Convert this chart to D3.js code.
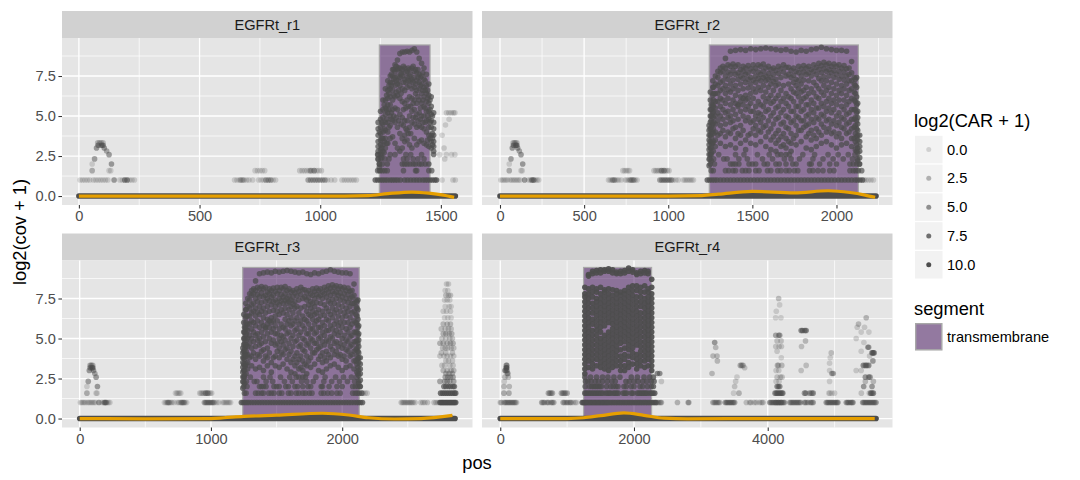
<!DOCTYPE html>
<html>
<head>
<meta charset="utf-8">
<script src="https://cdn.jsdelivr.net/npm/d3@7"></script>
<style>
  html, body { margin: 0; padding: 0; background: #fff; }
  svg { display: block; font-family: "Liberation Sans", Arial, sans-serif; }
</style>
</head>
<body>
<div id="vis"></div>
<script>
// set constants
const FRAME_WIDTH = 1080;
const FRAME_HEIGHT = 480;
const POINT_COLOR = "#4d4d4d";
const LINE_COLOR = "#e69f00";

// ---- data ----
const panelNames = ["EGFRt_r1", "EGFRt_r2", "EGFRt_r3", "EGFRt_r4"];
const xDomains = [[-70, 1631], [-107, 2333], [-135, 2993], [-273, 5866]];
const xTicks = [[0, 500, 1000, 1500], [0, 500, 1000, 1500, 2000], [0, 1000, 2000], [0, 2000, 4000]];
const xMinorTicks = [[250, 750, 1250], [250, 750, 1250, 1750, 2250], [500, 1500, 2500], [1000, 3000, 5000]];
const yTicks = [0, 2.5, 5, 7.5];
const yMinorTicks = [1.25, 3.75, 6.25, 8.75];
const carLegend = [0, 2.5, 5, 7.5, 10];
const segStart = [1245, 1244, 1242, 1246];
const segEnd = [1455, 2130, 2130, 2263];
const segTop = 9.44;
const zeroEnd = [1560, 2235, 2860, 5620];

// smooth line per panel
const smooth1Pos = [0, 400, 800, 1100, 1200, 1280, 1380, 1450, 1510, 1555];
const smooth1Val = [0, 0, 0, 0, 0.03, 0.15, 0.25, 0.18, 0.06, -0.08];
const smooth2Pos = [0, 500, 1000, 1200, 1300, 1500, 1750, 1950, 2080, 2170, 2230];
const smooth2Val = [0, 0, 0, 0.03, 0.12, 0.29, 0.2, 0.33, 0.22, 0.06, -0.08];
const smooth3Pos = [0, 500, 1000, 1100, 1250, 1500, 1850, 2050, 2200, 2400, 2600, 2840];
const smooth3Val = [0, -0.02, 0, 0.05, 0.13, 0.21, 0.33, 0.22, 0.05, -0.03, 0, 0.2];
const smooth4Pos = [0, 500, 1000, 1250, 1500, 1850, 2150, 2450, 2800, 4000, 5000, 5600];
const smooth4Val = [0, 0, 0, 0.05, 0.18, 0.35, 0.2, 0.02, -0.02, 0, 0, 0];

// low rows shared by r1, r2, r3: [log2(cov+1), log2(CAR+1), positions]
const leftRows = [
  [1, 0, [5, 15, 25, 35, 45, 60, 70, 80, 90, 100, 110, 120, 170, 180, 190, 200, 210, 220, 230]],
  [1, 4, [146, 190, 200]],
  [1, 0, [645, 655, 665, 675, 685, 695, 705, 720, 745, 755, 765, 775, 785, 795, 805, 815]],
  [1, 1.5, [670, 680, 775, 785, 795]],
  [1, 3, [950, 960, 970, 980, 990, 1000, 1010, 1020]],
  [1, 0, [1030, 1045, 1060, 1090, 1100, 1110, 1120, 1130, 1140, 1150]],
  [1.585, 0, [730, 740, 750, 760, 770]],
  [1.585, 0.3, [915, 925, 935, 945, 955, 965, 975, 985, 995, 1005]],
  [1.585, 2.5, [55, 960, 975]],
  [1.585, 0, [125, 132]],
  [2, 0, [55]],
  [2, 4, [135]],
  [2.32, 3.5, [65]],
  [2.585, 4, [125]],
  [2.81, 3, [115]],
  [3, 4, [73, 105]],
  [3.17, 5, [80, 94, 100]],
  [3.32, 1.5, [78, 85, 92, 100]]
];

// r1 transmembrane traces
const tm1Pos = [1240, 1250, 1260, 1270, 1280, 1290, 1300, 1310, 1320, 1330, 1340, 1350, 1360, 1370, 1380, 1390, 1400, 1410, 1420, 1430, 1440, 1450, 1460, 1470];
const tm1Traces = [
  [4.6, 5.3, 6.0, 6.7, 7.2, 7.5, 7.9, 8.2, 8.5, 8.9, 9.0, 9.0, 9.05, 9.0, 9.1, 9.2, 9.0, 8.6, 8.3, 8.0, 7.6, 7.0, 6.2, 5.2],
  [4.2, 4.8, 5.4, 6.0, 6.6, 7.1, 7.5, 7.8, 7.9, 8.0, 7.9, 8.0, 7.8, 7.9, 8.0, 7.8, 7.7, 7.6, 7.5, 7.3, 6.9, 6.3, 5.6, 4.6],
  [3.8, 4.3, 4.9, 5.5, 6.1, 6.7, 7.1, 7.4, 7.5, 7.4, 7.5, 7.3, 7.4, 7.5, 7.3, 7.4, 7.2, 7.1, 7.0, 6.8, 6.4, 5.8, 5.1, 4.2],
  [3.4, 3.9, 4.5, 5.1, 5.7, 6.2, 6.6, 6.9, 7.0, 6.9, 6.7, 6.6, 6.8, 6.9, 6.7, 6.8, 6.6, 6.7, 6.4, 6.2, 5.9, 5.3, 4.7, 3.8],
  [3.1, 3.5, 4.0, 4.6, 5.2, 5.7, 6.0, 6.2, 6.3, 6.1, 5.9, 5.8, 6.0, 6.2, 6.1, 6.0, 5.8, 6.0, 5.8, 5.6, 5.3, 4.8, 4.3, 3.4],
  [2.8, 3.2, 3.6, 4.1, 4.6, 5.0, 5.4, 5.5, 5.4, 5.1, 4.9, 4.7, 4.7, 5.0, 5.3, 5.4, 5.1, 5.2, 5.0, 5.0, 4.7, 4.3, 3.8, 3.1],
  [2.6, 2.9, 3.2, 3.6, 4.0, 4.4, 4.7, 4.6, 4.3, 3.9, 3.6, 3.8, 4.1, 4.3, 4.6, 4.5, 4.3, 4.4, 4.3, 4.2, 4.0, 3.8, 3.4, 2.8],
  [2.3, 2.6, 2.8, 3.0, 3.3, 3.6, 3.7, 3.3, 3.0, 2.8, 3.0, 3.4, 3.5, 3.2, 3.0, 3.6, 3.2, 3.4, 3.5, 3.3, 3.2, 3.1, 3.0, 2.6]
];
const tm1Pos2 = [1245, 1255, 1265, 1275, 1285, 1295, 1305, 1315, 1325, 1335, 1345, 1355, 1365, 1375, 1385, 1395, 1405, 1415, 1425, 1435, 1445, 1455, 1465];
const tm1Traces2 = [
  [4.0, 4.6, 5.7, 6.3, 6.9, 7.6, 7.9, 8.1, 8.0, 7.7, 8.1, 7.7, 8.0, 7.6, 8.1, 7.9, 7.9, 7.4, 7.7, 7.2, 6.6, 6.0, 5.0],
  [2.0, 3.6, 4.2, 5.4, 6.4, 6.9, 7.3, 7.2, 7.2, 7.6, 7.1, 7.1, 7.2, 7.2, 7.1, 7.0, 7.4, 6.9, 6.6, 6.6, 6.1, 5.4, 3.9],
  [1.8, 3.0, 3.4, 4.8, 5.4, 5.2, 6.3, 6.5, 6.6, 6.4, 5.4, 5.5, 5.6, 5.6, 5.8, 6.4, 6.2, 5.5, 6.0, 5.5, 5.0, 4.6, 3.6],
  [1.6, 2.4, 2.7, 3.3, 4.3, 4.8, 5.0, 4.9, 4.7, 4.5, 4.4, 4.2, 3.9, 3.9, 4.9, 4.9, 4.7, 4.8, 4.6, 4.6, 3.5, 3.6, 3.2]
];
const tm1Rows = [
  [1, 7, [1228, 1238, 1248, 1258, 1268, 1278, 1290, 1300, 1310, 1320, 1332, 1350, 1362, 1375, 1388, 1400, 1412, 1425, 1435, 1445, 1455, 1465, 1475, 1482]],
  [1.585, 6, [1238, 1248, 1258, 1268, 1278, 1345, 1395, 1400, 1450, 1462]],
  [2, 7, [1245, 1258, 1278, 1340, 1350, 1360, 1372, 1385, 1395, 1410, 1420, 1435, 1450]],
  [2.32, 6, [1240, 1250, 1268, 1285, 1345, 1360, 1385, 1405, 1430]],
  [2.585, 6, [1238, 1255, 1290, 1310, 1355, 1375, 1420]],
  [1, 0, [1505, 1550, 1560]],
  [2.585, 0, [1495, 1523, 1544, 1558]],
  [2.32, 0, [1516]],
  [3, 0.3, [1513]],
  [3.8, 0, [1505]],
  [4.44, 0, [1519]],
  [4.8, 0, [1534]],
  [5.2, 0.3, [1523, 1533, 1543, 1552, 1558]]
];

// r2 and r3 transmembrane traces
const tmPos = [1250, 1280, 1310, 1340, 1370, 1400, 1430, 1460, 1490, 1520, 1550, 1580, 1610, 1640, 1670, 1700, 1730, 1760, 1790, 1820, 1850, 1880, 1910, 1940, 1970, 2000, 2030, 2060, 2090, 2120];
const tmTraces = [
  [6.5, 7.5, 8.0, 8.6, 9.05, 9.1, 9.15, 9.1, 9.2, 9.15, 9.2, 9.25, 9.2, 9.15, 9.1, 9.15, 9.05, 9.0, 9.1, 9.05, 9.15, 9.2, 9.3, 9.2, 9.15, 9.1, 9.1, 9.05, 8.4, 7.4],
  [6.0, 7.0, 7.7, 8.0, 8.1, 8.1, 7.9, 8.0, 7.95, 8.0, 8.1, 8.0, 7.9, 7.85, 7.95, 8.05, 7.85, 7.8, 7.95, 8.0, 7.9, 8.05, 8.15, 8.2, 8.1, 8.1, 8.0, 7.95, 7.7, 6.8],
  [5.4, 6.4, 7.1, 7.5, 7.6, 7.6, 7.5, 7.6, 7.4, 7.5, 7.6, 7.5, 7.4, 7.3, 7.4, 7.5, 7.4, 7.3, 7.5, 7.6, 7.5, 7.6, 7.7, 7.8, 7.7, 7.6, 7.5, 7.5, 7.2, 6.2],
  [5.0, 5.9, 6.6, 6.9, 7.0, 6.9, 7.0, 7.1, 7.0, 7.1, 7.2, 7.2, 7.0, 6.9, 6.6, 6.4, 6.7, 6.9, 7.0, 6.8, 6.7, 6.9, 7.2, 7.2, 7.1, 7.0, 6.9, 7.0, 6.7, 5.7],
  [4.6, 5.5, 6.1, 6.4, 6.5, 6.3, 6.2, 6.3, 6.4, 6.5, 6.6, 6.5, 6.3, 6.1, 5.9, 5.8, 6.1, 6.4, 6.5, 6.2, 6.0, 6.2, 6.5, 6.6, 6.4, 6.3, 6.4, 6.3, 6.1, 5.2],
  [4.2, 5.0, 5.6, 5.8, 5.7, 5.8, 5.9, 6.0, 5.8, 5.6, 5.7, 5.9, 5.8, 5.5, 5.2, 5.0, 5.3, 5.6, 5.9, 5.7, 5.4, 5.5, 5.8, 5.9, 5.8, 5.7, 5.6, 5.7, 5.4, 4.7],
  [3.8, 4.5, 5.0, 5.2, 5.0, 5.1, 5.3, 5.4, 5.3, 5.0, 5.1, 5.3, 5.0, 4.8, 4.5, 4.3, 4.6, 5.0, 5.3, 5.0, 4.8, 4.9, 5.1, 5.3, 5.2, 5.0, 4.9, 5.1, 4.8, 4.2],
  [3.4, 4.0, 4.4, 4.5, 4.6, 4.3, 4.4, 4.7, 4.6, 4.4, 4.6, 4.4, 4.2, 3.9, 3.7, 3.6, 3.9, 4.4, 4.7, 4.4, 4.1, 4.2, 4.5, 4.7, 4.5, 4.4, 4.3, 4.5, 4.2, 3.7],
  [3.0, 3.5, 3.9, 3.7, 3.9, 3.6, 3.8, 3.5, 3.9, 3.8, 4.0, 3.7, 3.5, 3.3, 3.1, 3.0, 3.3, 3.8, 4.1, 3.7, 3.5, 3.6, 3.8, 4.0, 3.9, 3.7, 3.6, 3.9, 3.6, 3.2],
  [2.6, 3.1, 3.3, 3.1, 3.2, 3.0, 3.3, 2.9, 3.3, 3.2, 3.4, 3.1, 2.9, 2.8, 2.6, 2.6, 2.8, 3.2, 3.4, 3.0, 2.9, 3.1, 3.3, 3.4, 3.2, 3.0, 3.2, 3.3, 3.1, 2.8]
];
const tmPos2 = [1265, 1295, 1325, 1355, 1385, 1415, 1445, 1475, 1505, 1535, 1565, 1595, 1625, 1655, 1685, 1715, 1745, 1775, 1805, 1835, 1865, 1895, 1925, 1955, 1985, 2015, 2045, 2075, 2105];
const tmTraces2 = [
  [7.2, 7.8, 8.1, 8.2, 8.25, 8.2, 8.1, 8.15, 8.2, 8.2, 8.25, 8.1, 8.0, 8.1, 8.2, 8.05, 8.0, 8.1, 8.15, 8.1, 8.2, 8.3, 8.35, 8.3, 8.25, 8.2, 8.15, 8.0, 7.4],
  [6.8, 7.4, 7.8, 7.75, 7.85, 7.7, 7.8, 7.7, 7.8, 7.75, 7.8, 7.65, 7.6, 7.65, 7.75, 7.6, 7.55, 7.7, 7.75, 7.7, 7.8, 7.9, 7.95, 7.9, 7.85, 7.8, 7.75, 7.6, 7.0],
  [6.3, 6.9, 7.2, 7.3, 7.25, 7.3, 7.35, 7.3, 7.25, 7.35, 7.4, 7.3, 7.15, 7.0, 6.9, 7.0, 7.1, 7.2, 7.25, 7.2, 7.1, 7.35, 7.45, 7.5, 7.4, 7.3, 7.25, 7.2, 6.5],
  [5.7, 6.4, 6.7, 6.65, 6.7, 6.6, 6.7, 6.75, 6.7, 6.8, 6.9, 6.8, 6.6, 6.3, 6.1, 6.2, 6.5, 6.7, 6.6, 6.4, 6.45, 6.7, 6.9, 6.8, 6.7, 6.6, 6.7, 6.6, 6.0],
  [5.2, 5.9, 6.0, 6.1, 6.0, 5.7, 6.1, 6.1, 6.1, 5.9, 6.2, 6.1, 5.9, 5.6, 5.4, 5.6, 5.9, 6.2, 6.1, 5.7, 5.8, 6.1, 6.3, 6.1, 6.0, 6.0, 6.0, 5.9, 5.4],
  [4.5, 5.2, 5.4, 5.3, 5.4, 5.6, 5.7, 5.6, 5.3, 5.2, 5.6, 5.4, 5.2, 4.9, 4.6, 4.9, 5.3, 5.6, 5.4, 5.1, 5.2, 5.5, 5.6, 5.5, 5.4, 5.2, 5.4, 5.2, 4.8],
  [4.0, 4.7, 4.8, 4.9, 4.7, 4.8, 5.0, 4.9, 4.7, 4.8, 4.9, 4.7, 4.5, 4.1, 3.9, 4.2, 4.7, 4.9, 4.7, 4.5, 4.6, 4.8, 5.0, 4.8, 4.7, 4.6, 4.8, 4.6, 4.3],
  [3.3, 3.8, 4.1, 4.0, 4.2, 3.9, 4.1, 3.8, 4.2, 4.1, 4.3, 4.0, 3.7, 3.5, 3.2, 3.4, 3.6, 4.1, 4.3, 3.9, 3.8, 4.0, 4.3, 4.2, 4.0, 3.9, 4.2, 4.0, 3.6]
];
// dense columns at both ends of the segment: [pos, values]
const tmEdges = [
  [1243, [1.9, 2.3, 2.6, 2.9, 3.2, 3.5, 3.8, 4.1, 4.4]],
  [1256, [2.2, 2.7, 3.0, 3.3, 3.7, 4.0, 4.3, 4.7, 5.0, 5.4, 5.7]],
  [1268, [2.8, 3.4, 3.9, 4.2, 4.6, 4.9, 5.3, 5.6, 6.0, 6.4, 6.8]],
  [2112, [2.9, 3.4, 3.9, 4.4, 4.9, 5.4, 5.9, 6.4, 6.9, 7.3]],
  [2126, [2.2, 2.7, 3.0, 3.5, 3.8, 4.1, 4.5, 4.9, 5.3, 5.8]],
  [2138, [2.0, 2.4, 2.8, 3.1, 3.4, 3.8]]
];
const tmRows = [
  [1, 7, [1232, 1245, 1260, 1275, 1290, 1310, 1330, 1350, 1370, 1390, 1410, 1430, 1450, 1470, 1490, 1510, 1530, 1550, 1570, 1590, 1610, 1630, 1650, 1670, 1690, 1710, 1730, 1750, 1770, 1790, 1810, 1830, 1850, 1870, 1890, 1910, 1930, 1950, 1970, 1990, 2010, 2030, 2050, 2070, 2090, 2110, 2125, 2140, 2155]],
  [1.585, 6, [1255, 1268, 1340, 1360, 1385, 1400, 1440, 1460, 1480, 1520, 1540, 1590, 1610, 1650, 1670, 1700, 1720, 1750, 1770, 1840, 1860, 1890, 1920, 1960, 1985, 2080, 2100, 2115, 2130, 2150]],
  [2, 6.5, [1250, 1275, 1370, 1385, 1400, 1420, 1480, 1500, 1520, 1570, 1590, 1640, 1660, 1700, 1740, 1760, 1840, 1850, 1900, 1960, 2000, 2080, 2100, 2120, 2135]],
  [2.32, 6, [1248, 1270, 1330, 1350, 1420, 1470, 1560, 1620, 1690, 1730, 1780, 1860, 1920, 1980, 2040, 2095, 2125]],
  [2.585, 6, [1255, 1300, 1400, 1450, 1530, 1600, 1650, 1720, 1800, 1870, 1950, 2010, 2070, 2110]]
];

// extra points in r2 and r3 beyond the segment
const r2Rows = [
  [1, 0, [2165, 2175, 2190, 2205, 2220]]
];
const r3Rows = [
  [1.585, 0.3, [2145, 2160, 2175, 2190]],
  [1, 0.8, [2450, 2460, 2470, 2480, 2490, 2500, 2510, 2520, 2530, 2540, 2555, 2600, 2615, 2630, 2650, 2700, 2715, 2730]],
  [1, 8, [2745, 2755, 2765, 2775, 2785, 2795, 2805, 2815, 2825, 2835, 2845, 2855, 2865]],
  [1.585, 7, [2750, 2765, 2780, 2795, 2810, 2825, 2840, 2855, 2865]],
  [2, 6, [2775, 2790, 2810, 2825, 2845, 2855]],
  [2.32, 3, [2745, 2780, 2800, 2820, 2850]],
  [2.585, 3, [2785, 2805, 2825, 2845]],
  [2.81, 2, [2790, 2815, 2840]],
  [3, 1.5, [2770, 2800, 2830, 2850]],
  [3.32, 0.5, [2760, 2780, 2820, 2845]],
  [3.6, 0.5, [2790, 2810, 2840]],
  [3.9, 0.5, [2745, 2775, 2800, 2825, 2850]],
  [4.1, 1, [2755, 2790, 2840]],
  [4.4, 1, [2765, 2785, 2805, 2830, 2850]],
  [4.7, 2, [2745, 2770, 2800, 2825, 2845]],
  [5.0, 1, [2760, 2790, 2820, 2840]],
  [5.3, 2, [2770, 2790, 2815, 2835]],
  [5.6, 1, [2755, 2785, 2810, 2830]],
  [5.9, 1.5, [2770, 2800, 2825]],
  [6.3, 0, [2780, 2805, 2830]],
  [6.7, 0.3, [2770, 2795, 2825]],
  [7.0, 0, [2785, 2815, 2830]],
  [7.4, 0.3, [2780, 2800, 2820]],
  [7.7, 1, [2790, 2810, 2825]],
  [8.0, 0, [2785, 2805]],
  [8.4, 0.3, [2795, 2810]]
];

// r4 transmembrane block
const tm4Pos = [1265, 1320, 1380, 1440, 1500, 1560, 1620, 1680, 1740, 1800, 1860, 1920, 1980, 2040, 2100, 2160, 2210, 2265];
const tm4Traces = [
  [8.2, 9.0, 9.2, 9.25, 9.3, 9.3, 9.35, 9.3, 9.15, 9.2, 9.25, 9.4, 9.3, 9.1, 9.2, 9.25, 9.2, 8.7],
  [7.8, 8.9, 9.05, 9.1, 9.1, 9.2, 9.2, 9.1, 9.05, 9.05, 9.1, 9.2, 9.15, 9.0, 9.05, 9.1, 9.05, 8.2],
  [7.6, 8.1, 8.2, 8.1, 8.2, 8.05, 8.1, 8.05, 8.0, 7.9, 8.0, 8.2, 8.3, 8.3, 8.2, 8.3, 8.1, 7.8],
  [7.3, 7.8, 7.9, 7.9, 7.8, 7.9, 7.8, 7.7, 7.8, 7.7, 7.8, 7.9, 8.0, 8.0, 7.9, 7.9, 7.9, 7.5],
  [7.0, 7.5, 7.6, 7.5, 7.5, 7.6, 7.5, 7.4, 7.5, 7.4, 7.5, 7.6, 7.7, 7.6, 7.6, 7.5, 7.6, 7.2],
  [6.7, 7.2, 7.2, 7.3, 7.2, 7.3, 7.2, 7.1, 7.2, 7.1, 7.2, 7.3, 7.4, 7.3, 7.3, 7.2, 7.3, 6.9],
  [6.4, 6.9, 6.9, 7.0, 6.9, 7.0, 6.9, 6.8, 6.9, 6.8, 6.9, 7.0, 7.1, 7.0, 7.0, 6.9, 7.0, 6.6],
  [6.1, 6.6, 6.6, 6.7, 6.6, 6.7, 6.6, 6.5, 6.6, 6.5, 6.6, 6.7, 6.8, 6.7, 6.6, 6.6, 6.7, 6.3],
  [5.8, 6.3, 6.2, 6.4, 6.3, 6.4, 6.3, 6.2, 6.3, 6.2, 6.3, 6.4, 6.5, 6.4, 6.3, 6.3, 6.4, 6.0],
  [5.5, 6.0, 5.9, 6.1, 6.0, 6.1, 6.0, 5.9, 6.0, 5.9, 6.0, 6.1, 6.2, 6.1, 6.0, 6.0, 6.1, 5.7],
  [5.2, 5.7, 5.5, 5.8, 5.7, 5.8, 5.4, 5.6, 5.7, 5.6, 5.7, 5.8, 5.9, 5.8, 5.7, 5.7, 5.8, 5.4],
  [4.9, 5.4, 5.2, 5.5, 5.4, 5.2, 5.1, 5.3, 5.4, 5.3, 5.4, 5.5, 5.6, 5.5, 5.4, 5.4, 5.5, 5.1],
  [4.6, 5.1, 4.9, 5.2, 5.0, 4.9, 4.8, 5.0, 5.1, 5.0, 5.1, 5.2, 5.3, 5.2, 5.1, 5.1, 5.2, 4.8],
  [4.3, 4.8, 4.6, 4.9, 4.7, 4.6, 4.5, 4.7, 4.8, 4.7, 4.8, 4.9, 5.0, 4.9, 4.8, 4.8, 4.9, 4.5],
  [4.0, 4.5, 4.3, 4.6, 4.4, 4.3, 4.2, 4.4, 4.5, 4.3, 4.4, 4.6, 4.7, 4.6, 4.5, 4.5, 4.6, 4.2],
  [3.7, 4.2, 4.0, 4.3, 4.1, 4.0, 3.9, 4.1, 4.2, 3.9, 4.0, 4.3, 4.4, 4.0, 4.2, 4.2, 4.3, 3.9],
  [3.4, 3.9, 3.7, 4.0, 3.8, 3.7, 3.6, 3.8, 3.9, 3.6, 3.7, 3.9, 4.1, 3.7, 3.9, 3.9, 4.0, 3.6],
  [3.1, 3.6, 3.4, 3.7, 3.5, 3.4, 3.3, 3.5, 3.6, 3.3, 3.3, 3.5, 3.8, 3.4, 3.6, 3.6, 3.7, 3.3],
  [2.8, 3.2, 3.1, 3.3, 3.2, 3.1, 3.0, 3.2, 3.3, 3.0, 3.0, 3.2, 3.4, 3.1, 3.3, 3.2, 3.3, 3.0]
];
const r4Rows = [
  [1, 7, [1225, 1240, 1255, 1270, 1285, 1305, 1325, 1345, 1365, 1385, 1405, 1425, 1445, 1465, 1485, 1505, 1525, 1545, 1565, 1585, 1605, 1625, 1650, 1675, 1700, 1725, 1750, 1775, 1800, 1825, 1850, 1875, 1900, 1925, 1950, 1975, 2000, 2025, 2050, 2075, 2100, 2125, 2150, 2175, 2200, 2225, 2250, 2275, 2300, 2325]],
  [1.585, 7.5, [1265, 1285, 1310, 1335, 1360, 1385, 1410, 1435, 1460, 1485, 1510, 1535, 1580, 1605, 1630, 1650, 1690, 1715, 1740, 1765, 1840, 1865, 1890, 1960, 1985, 2050, 2075, 2100, 2125, 2150, 2175, 2200, 2240, 2265, 2285, 2310]],
  [2, 7, [1270, 1330, 1365, 1390, 1415, 1440, 1465, 1490, 1515, 1590, 1650, 1690, 1730, 1760, 1850, 1885, 1960, 2000, 2090, 2130, 2200, 2260, 2290]],
  [2.32, 7, [1275, 1310, 1360, 1420, 1470, 1530, 1600, 1670, 1720, 1880, 1930, 2000, 2060, 2130, 2190, 2260, 2300]],
  [2.585, 7, [1265, 1350, 1440, 1530, 1610, 1700, 1790, 1960, 2050, 2150, 2235, 2290]],
  [2.81, 5, [2385, 2350]],
  [1, 2, [2330, 2350, 2370, 2395, 2410, 2650, 2810, 2820]],
  [2.32, 0.5, [2410]],
  [1, 0, [0, 10, 20, 235, 245]],
  [1, 2.5, [60, 80, 100, 120, 140, 160, 180, 200, 220, 620, 640, 660, 700, 720, 760, 780, 800, 940, 960, 990, 1010, 1040, 1060]],
  [1, 0.3, [1090, 1120, 1140]],
  [1.585, 2.5, [55, 130, 720, 740, 760, 780, 915, 935, 955, 975, 1000]],
  [2, 1.5, [55, 135]],
  [2.32, 0, [60]],
  [2.585, 1.5, [70, 120]],
  [2.81, 2.5, [105, 115]],
  [3, 4, [70, 85, 100]],
  [3.17, 6, [88, 98]],
  [3.32, 3, [90, 100]],
  [1, 2, [3180, 3200, 3220, 3240, 3260, 3280]],
  [1, 3.5, [3365, 3385, 3405, 3425, 3445, 3465, 3485, 3505]],
  [1, 1, [3680, 3730, 3750, 3800, 3830, 3880, 3910, 3930]],
  [1, 3.5, [4030, 4050, 4070, 4090, 4110, 4130, 4150, 4170, 4190, 4210, 4230, 4250, 4120, 4160, 4200]],
  [1, 3, [4330, 4350, 4370, 4390, 4410, 4430, 4450, 4470, 4490, 4550, 4570, 4600, 4640, 4660, 4680]],
  [1, 3.5, [4875, 4895, 4915, 4935, 4955, 4975, 4995, 5015, 5035, 5050, 5175, 5195, 5215, 5240, 5260, 5275]],
  [1, 3.5, [5420, 5440, 5460, 5480, 5500, 5520, 5540, 5560, 5580, 5600, 5620]],
  [4.75, 4, [3207]],
  [4.44, 1.5, [3222]],
  [3.9, 1.5, [3182, 3242]],
  [3.6, 1.5, [3247]],
  [2.81, 1.5, [3167]],
  [2.585, 0, [3540]],
  [2.32, 0.3, [3520]],
  [2, 0.8, [3505]],
  [1.585, 0, [3490]],
  [1.585, 2, [3570]],
  [3.32, 2.5, [3590, 3610, 3630]],
  [3.17, 0.8, [3655]],
  [7.5, 1.5, [4163]],
  [7.1, 0, [4178]],
  [6.7, 0, [4128]],
  [6.3, 0, [4118, 4198]],
  [5.2, 3, [4120, 4165, 4180]],
  [4.85, 1, [4140, 4200]],
  [4.5, 0.5, [4120, 4170, 4205]],
  [4.2, 0.3, [4140]],
  [3.8, 0, [4203]],
  [3.32, 1.5, [4145, 4160, 4210]],
  [3, 0.3, [4125, 4165]],
  [2.585, 0.8, [4140, 4190, 4215]],
  [2.32, 0.3, [4125, 4170]],
  [2, 4.5, [4140, 4160, 4180]],
  [1.585, 5, [4110, 4130, 4150, 4170, 4190, 4210, 4225]],
  [5.5, 5, [4500, 4520, 4555, 4575]],
  [4.85, 1.5, [4565]],
  [4.5, 1, [4505]],
  [3.32, 1, [4575]],
  [3, 0.8, [4500]],
  [1.585, 4, [4550, 4570, 4630, 4660, 4680]],
  [4.1, 1, [4950]],
  [3.8, 0, [4935]],
  [3.45, 0, [4925]],
  [3, 0, [4925]],
  [2.81, 3, [4960, 4980]],
  [2.32, 0, [4925]],
  [1.585, 0, [4915, 4930, 4960, 5000]],
  [6.3, 2, [5473]],
  [5.9, 1.5, [5358]],
  [5.7, 0.3, [5448, 5338]],
  [5.4, 0, [5513, 5398]],
  [5, 0.3, [5323]],
  [4.75, 0, [5438]],
  [4.45, 3, [5498, 5510]],
  [4.2, 0, [5398]],
  [4.1, 6, [5560, 5575, 5590]],
  [3.9, 0.3, [5523]],
  [3.6, 4, [5573]],
  [3.32, 5, [5430, 5460, 5480, 5510]],
  [3, 0.3, [5323, 5398]],
  [2.585, 4, [5460, 5510, 5530]],
  [2.32, 1.5, [5460, 5580]],
  [2, 4, [5435, 5560]],
  [1.585, 0.8, [5400, 5520]],
  [1.585, 5, [5540, 5560, 5580]]
];

// turn rows and traces into flat point lists
function fromRows(rows) {
  return rows.flatMap((r) => r[2].map((p) => ({pos: p, cov: r[0], car: r[1]})));
}
function fromTraces(posList, traces, car) {
  return traces.flatMap((t) => t.map((v, i) => ({pos: posList[i], cov: v, car: car})));
}
function fromEdges(edges, car) {
  return edges.flatMap((e) => e[1].map((v) => ({pos: e[0], cov: v, car: car})));
}

const tmBlock = fromRows(tmRows).concat(fromTraces(tmPos, tmTraces, 7), fromTraces(tmPos2, tmTraces2, 7), fromEdges(tmEdges, 7));
const panelPoints = [
  fromRows(leftRows).concat(fromRows(tm1Rows), fromTraces(tm1Pos, tm1Traces, 6.5), fromTraces(tm1Pos2, tm1Traces2, 6.5)),
  fromRows(leftRows).concat(tmBlock, fromRows(r2Rows)),
  fromRows(leftRows).concat(tmBlock, fromRows(r3Rows)),
  fromRows(r4Rows).concat(fromTraces(tm4Pos, tm4Traces, 9))
];
const smoothPos = [smooth1Pos, smooth2Pos, smooth3Pos, smooth4Pos];
const smoothVal = [smooth1Val, smooth2Val, smooth3Val, smooth4Val];

// ---- layout ----
const PANEL_W = 410.5;
const PANEL_LEFT = [62, 482, 62, 482];
const STRIP_TOP = [11, 11, 233.5, 233.5];
const STRIP_H = 27;
const PANEL_H = 167;
const TEXT_SMALL = "14.6px";
const TEXT_BIG = "18.3px";

const ALPHA_SCALE = d3.scaleLinear().domain([0, 10]).range([0.2, 1]);

const FRAME = d3.select("#vis")
                .append("svg")
                  .attr("width", FRAME_WIDTH)
                  .attr("height", FRAME_HEIGHT);

FRAME.append("rect")
      .attr("width", FRAME_WIDTH)
      .attr("height", FRAME_HEIGHT)
      .attr("fill", "#fff");

panelNames.forEach((name, k) => {
  const top = STRIP_TOP[k] + STRIP_H;
  const g = FRAME.append("g")
                 .attr("transform", "translate(" + PANEL_LEFT[k] + "," + top + ")");

  const X_SCALE = d3.scaleLinear().domain(xDomains[k]).range([0, PANEL_W]);
  const Y_SCALE = d3.scaleLinear().domain([-0.56, 9.875]).range([PANEL_H, 0]);

  // strip
  g.append("rect")
    .attr("y", -STRIP_H)
    .attr("width", PANEL_W)
    .attr("height", STRIP_H)
    .attr("fill", "#d1d1d1");
  g.append("text")
    .attr("x", PANEL_W / 2)
    .attr("y", -STRIP_H / 2 + 5)
    .attr("text-anchor", "middle")
    .attr("font-size", TEXT_SMALL)
    .attr("fill", "#1a1a1a")
    .text(name);

  // panel and grid
  g.append("rect")
    .attr("width", PANEL_W)
    .attr("height", PANEL_H)
    .attr("fill", "#e5e5e5");

  g.selectAll(".ym").data(yMinorTicks).enter().append("line")
    .attr("x2", PANEL_W)
    .attr("y1", (d) => Y_SCALE(d)).attr("y2", (d) => Y_SCALE(d))
    .attr("stroke", "#fff").attr("stroke-width", 0.7);
  g.selectAll(".xm").data(xMinorTicks[k]).enter().append("line")
    .attr("y2", PANEL_H)
    .attr("x1", (d) => X_SCALE(d)).attr("x2", (d) => X_SCALE(d))
    .attr("stroke", "#fff").attr("stroke-width", 0.7);
  g.selectAll(".yg").data(yTicks).enter().append("line")
    .attr("x2", PANEL_W)
    .attr("y1", (d) => Y_SCALE(d)).attr("y2", (d) => Y_SCALE(d))
    .attr("stroke", "#fff").attr("stroke-width", 1.3);
  g.selectAll(".xg").data(xTicks[k]).enter().append("line")
    .attr("y2", PANEL_H)
    .attr("x1", (d) => X_SCALE(d)).attr("x2", (d) => X_SCALE(d))
    .attr("stroke", "#fff").attr("stroke-width", 1.3);

  // segment
  g.append("rect")
    .attr("x", X_SCALE(segStart[k]))
    .attr("y", Y_SCALE(segTop))
    .attr("width", X_SCALE(segEnd[k]) - X_SCALE(segStart[k]))
    .attr("height", Y_SCALE(0) - Y_SCALE(segTop))
    .attr("fill", "#33004d")
    .attr("fill-opacity", 0.5)
    .attr("stroke", "#a8a8a8")
    .attr("stroke-width", 1.2);

  // points
  g.selectAll(".point")
    .data(panelPoints[k])
    .enter()
    .append("circle")
      .attr("cx", (d) => X_SCALE(d.pos))
      .attr("cy", (d) => Y_SCALE(d.cov))
      .attr("r", 2.8)
      .attr("fill", POINT_COLOR)
      .attr("fill-opacity", (d) => ALPHA_SCALE(d.car));

  // zero coverage band
  g.append("line")
    .attr("x1", X_SCALE(0)).attr("x2", X_SCALE(zeroEnd[k]))
    .attr("y1", Y_SCALE(0)).attr("y2", Y_SCALE(0))
    .attr("stroke", POINT_COLOR)
    .attr("stroke-width", 5.6)
    .attr("stroke-linecap", "round");

  // smooth line and the dark fill below it
  const smoothData = smoothPos[k].map((p, i) => ({pos: p, val: smoothVal[k][i]}));
  g.append("path")
    .datum(smoothData)
    .attr("fill", POINT_COLOR)
    .attr("d", d3.area()
      .x((d) => X_SCALE(d.pos))
      .y0(Y_SCALE(0))
      .y1((d) => Y_SCALE(d.val))
      .curve(d3.curveMonotoneX));
  g.append("path")
    .datum(smoothData)
    .attr("fill", "none")
    .attr("stroke", LINE_COLOR)
    .attr("stroke-width", 3.2)
    .attr("d", d3.line()
      .x((d) => X_SCALE(d.pos))
      .y((d) => Y_SCALE(d.val))
      .curve(d3.curveMonotoneX));

  // axes
  const xAxis = g.append("g")
    .attr("transform", "translate(0," + PANEL_H + ")")
    .call(d3.axisBottom(X_SCALE).tickValues(xTicks[k]).tickFormat(d3.format("d")).tickSize(3.6).tickPadding(2.5));
  xAxis.select(".domain").remove();
  xAxis.selectAll("line").attr("stroke", "#333").attr("stroke-width", 1.07);
  xAxis.selectAll("text").attr("fill", "#4d4d4d").attr("font-size", TEXT_SMALL).attr("font-family", "Liberation Sans");

  if (k % 2 == 0) {
    const yAxis = g.append("g")
      .call(d3.axisLeft(Y_SCALE).tickValues(yTicks).tickFormat(d3.format(".1f")).tickSize(3.6).tickPadding(2.5));
    yAxis.select(".domain").remove();
    yAxis.selectAll("line").attr("stroke", "#333").attr("stroke-width", 1.07);
    yAxis.selectAll("text").attr("fill", "#4d4d4d").attr("font-size", TEXT_SMALL).attr("font-family", "Liberation Sans");
  }
});

// axis titles
FRAME.append("text")
      .attr("x", 477)
      .attr("y", 469)
      .attr("text-anchor", "middle")
      .attr("font-size", TEXT_BIG)
      .text("pos");
FRAME.append("text")
      .attr("transform", "translate(26,232) rotate(-90)")
      .attr("text-anchor", "middle")
      .attr("font-size", TEXT_BIG)
      .text("log2(cov + 1)");

// legend
const KEY_X = 915;
const KEY_SIZE = 27.5;
const KEY_STEP = 28.8;
const KEY_TOP = 135.8;

FRAME.append("text")
      .attr("x", KEY_X - 1)
      .attr("y", 127)
      .attr("font-size", TEXT_BIG)
      .text("log2(CAR + 1)");

const keys = FRAME.selectAll(".key")
                  .data(carLegend)
                  .enter()
                  .append("g")
                    .attr("transform", (d, i) => "translate(" + KEY_X + "," + (KEY_TOP + i * KEY_STEP) + ")");
keys.append("rect")
    .attr("width", KEY_SIZE)
    .attr("height", KEY_SIZE)
    .attr("fill", "#f2f2f2");
keys.append("circle")
    .attr("cx", KEY_SIZE / 2)
    .attr("cy", KEY_SIZE / 2)
    .attr("r", 2.5)
    .attr("fill", POINT_COLOR)
    .attr("fill-opacity", (d) => ALPHA_SCALE(d));
keys.append("text")
    .attr("x", 32)
    .attr("y", KEY_SIZE / 2 + 5)
    .attr("font-size", TEXT_SMALL)
    .text((d) => d3.format(".1f")(d));

FRAME.append("text")
      .attr("x", KEY_X - 1)
      .attr("y", 315)
      .attr("font-size", TEXT_BIG)
      .text("segment");
FRAME.append("rect")
      .attr("x", KEY_X)
      .attr("y", 323)
      .attr("width", KEY_SIZE)
      .attr("height", KEY_SIZE)
      .attr("fill", "#f2f2f2");
FRAME.append("rect")
      .attr("x", KEY_X + 0.7)
      .attr("y", 323.7)
      .attr("width", KEY_SIZE - 1.4)
      .attr("height", KEY_SIZE - 1.4)
      .attr("fill", "#33004d")
      .attr("fill-opacity", 0.5)
      .attr("stroke", "#a8a8a8")
      .attr("stroke-width", 1.4);
FRAME.append("text")
      .attr("x", KEY_X + 32)
      .attr("y", 323 + KEY_SIZE / 2 + 5)
      .attr("font-size", TEXT_SMALL)
      .text("transmembrane");
</script>
</body>
</html>
